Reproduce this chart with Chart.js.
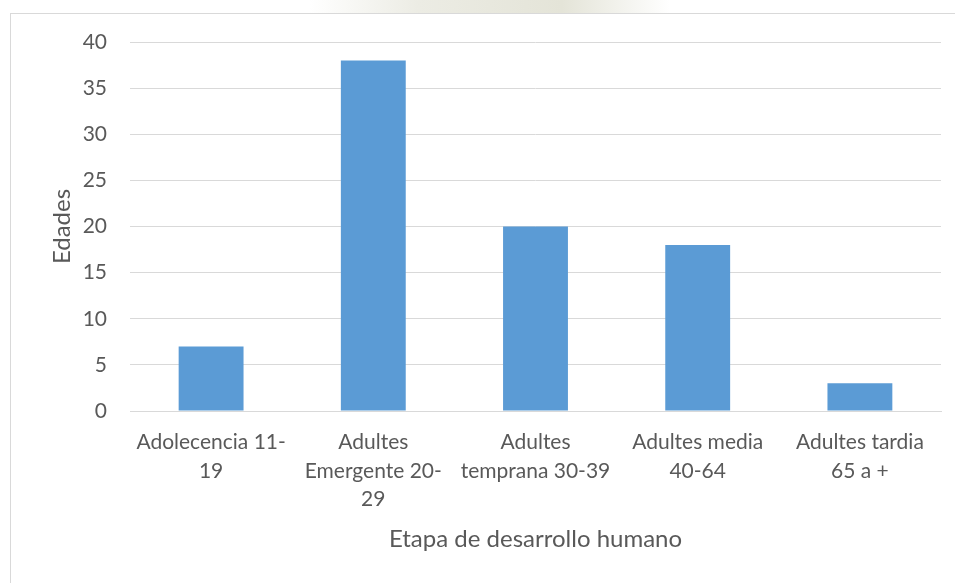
<!DOCTYPE html>
<html>
<head>
<meta charset="utf-8">
<script src="https://cdn.jsdelivr.net/npm/chart.js@4/dist/chart.umd.min.js"></script>
<style>
  html, body { margin: 0; padding: 0; background: #fff; }
  #wrap { position: relative; width: 955px; height: 583px; overflow: hidden; }
  #frame { position: absolute; left: 10px; top: 13px; width: 960px; height: 600px; border: 1px solid #d9d9d9; box-sizing: border-box; }
  #wm { position: absolute; left: 310px; top: 0; width: 360px; height: 13px; background: linear-gradient(90deg, rgba(235,235,225,0) 0%, #ecece4 30%, #e4e4d8 70%, rgba(235,235,225,0) 100%); }
  canvas { position: absolute; left: 0; top: 0; }
</style>
</head>
<body>
<div id="wrap">
  <div id="wm"></div>
  <div id="frame"></div>
  <canvas id="ageChart" width="955" height="583"></canvas>
</div>
<script>
const categories = [
    ['Adolecencia 11-', '19'],
    ['Adultes', 'Emergente 20-', '29'],
    ['Adultes', 'temprana 30-39'],
    ['Adultes media', '40-64'],
    ['Adultes tardia', '65 a +']
];
const counts = [7, 38, 20, 18, 3];
const yTicks = [0, 5, 10, 15, 20, 25, 30, 35, 40];

const textColor = '#595959';
const gridColor = '#d9d9d9';
const fontFamily = 'Lato, "Open Sans", sans-serif';

const ctx = document.getElementById('ageChart').getContext('2d');
new Chart(ctx, {
    type: 'bar',
    data: {
        labels: categories,
        datasets: [{
            label: 'Edades',
            data: counts,
            backgroundColor: '#5b9bd5',
            borderWidth: 0,
            barPercentage: 0.4,
            categoryPercentage: 1
        }]
    },
    options: {
        responsive: false,
        animation: false,
        layout: { padding: { left: 0, top: 42, right: 14, bottom: 0 } },
        plugins: {
            legend: { display: false },
            tooltip: { enabled: false }
        },
        scales: {
            x: {
                grid: { display: false, drawTicks: false },
                border: { display: true, color: gridColor, width: 1 },
                ticks: {
                    color: textColor,
                    font: { family: fontFamily, size: 21, lineHeight: 1.36 },
                    padding: 17,
                    maxRotation: 0,
                    autoSkip: false
                },
                title: {
                    display: true,
                    text: 'Etapa de desarrollo humano',
                    color: textColor,
                    font: { family: fontFamily, size: 24 },
                    padding: { top: 0, bottom: 29 }
                },
                afterFit: scale => { scale.height = 172; }
            },
            y: {
                min: 0,
                max: 40,
                grid: { color: gridColor, lineWidth: 1, drawTicks: false },
                border: { display: false },
                afterBuildTicks: scale => { scale.ticks = yTicks.map(v => ({ value: v })); },
                ticks: {
                    color: textColor,
                    font: { family: fontFamily, size: 21 },
                    padding: 23
                },
                title: {
                    display: true,
                    text: 'Edades',
                    color: textColor,
                    font: { family: fontFamily, size: 24 },
                    padding: { top: 48, bottom: 0 }
                },
                afterFit: scale => { scale.width = 130; }
            }
        }
    }
});
</script>
</body>
</html>
